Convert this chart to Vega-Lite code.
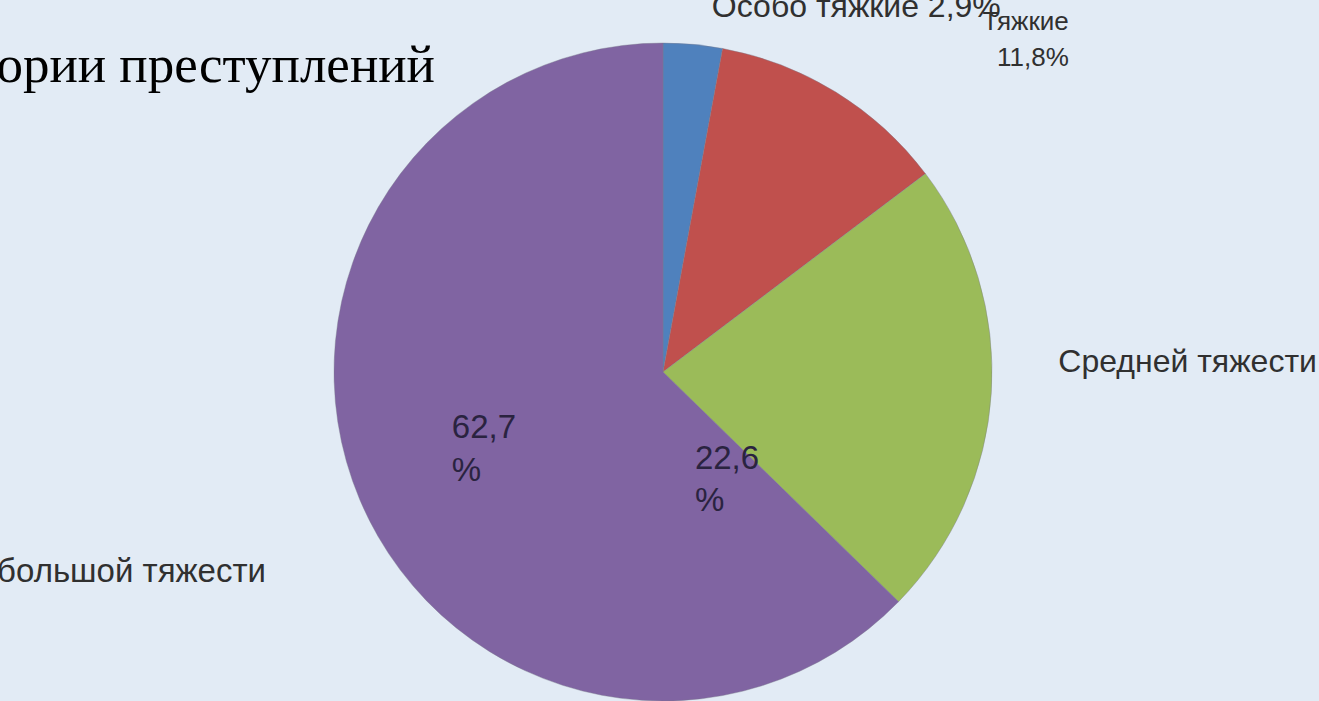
{
  "$schema": "https://vega.github.io/schema/vega-lite/v6.json",
  "width": 1326,
  "height": 658,
  "autosize": {"type": "none"},
  "padding": {"left": 0, "top": 43, "right": 0, "bottom": 0},
  "background": "#e2ebf5",
  "config": {"view": {"stroke": null}},
  "data": {
    "values": [
      {"cat": "Особо тяжкие", "rank": 1, "value": 2.9, "outer": "Особо тяжкие 2,9%", "inner": ""},
      {"cat": "Тяжкие", "rank": 2, "value": 11.8, "outer": "Тяжкие\n11,8%", "inner": ""},
      {"cat": "Средней тяжести", "rank": 3, "value": 22.6, "outer": "Средней тяжести", "inner": "22,6\n%"},
      {"cat": "Небольшой тяжести", "rank": 4, "value": 62.7, "outer": "Небольшой тяжести", "inner": "62,7\n%"}
    ]
  },
  "encoding": {
    "theta": {"field": "value", "type": "quantitative", "stack": true},
    "order": {"field": "rank", "type": "quantitative"}
  },
  "layer": [
    {
      "mark": {"type": "arc", "outerRadius": 329, "stroke": "#7a7a8a", "strokeWidth": 0.4},
      "encoding": {
        "color": {
          "field": "cat",
          "type": "nominal",
          "scale": {
            "domain": ["Особо тяжкие", "Тяжкие", "Средней тяжести", "Небольшой тяжести"],
            "range": ["#4f81bd", "#c0504d", "#9bbb59", "#8064a2"]
          },
          "legend": null
        }
      }
    },
    {
      "mark": {"type": "text", "radius": 350, "align": "right", "baseline": "alphabetic", "dx": 94.5, "dy": -426, "font": "Liberation Serif", "fontSize": 53, "color": "#000000"},
      "encoding": {"text": {"condition": {"test": "datum.rank === 4", "value": "Категории преступлений"}, "value": ""}}
    },
    {
      "mark": {"type": "text", "radius": 350, "align": "left", "baseline": "alphabetic", "dx": 17, "dy": -6.5, "font": "Liberation Sans", "fontSize": 32, "color": "#303030"},
      "encoding": {"text": {"condition": {"test": "datum.cat === 'Особо тяжкие'", "field": "outer"}, "value": ""}}
    },
    {
      "mark": {"type": "text", "radius": 350, "align": "right", "baseline": "alphabetic", "dx": 222, "dy": -44, "lineHeight": 36, "lineBreak": "\n", "font": "Liberation Sans", "fontSize": 26, "color": "#303030"},
      "encoding": {"text": {"condition": {"test": "datum.cat === 'Тяжкие'", "field": "outer"}, "value": ""}}
    },
    {
      "mark": {"type": "text", "radius": 350, "align": "left", "baseline": "alphabetic", "dx": 46, "dy": -22, "font": "Liberation Sans", "fontSize": 32, "color": "#303030"},
      "encoding": {"text": {"condition": {"test": "datum.cat === 'Средней тяжести'", "field": "outer"}, "value": ""}}
    },
    {
      "mark": {"type": "text", "radius": 350, "align": "right", "baseline": "alphabetic", "dx": -74.5, "dy": 74, "font": "Liberation Sans", "fontSize": 33, "color": "#303030"},
      "encoding": {"text": {"condition": {"test": "datum.cat === 'Небольшой тяжести'", "field": "outer"}, "value": ""}}
    },
    {
      "mark": {"type": "text", "radius": 150, "align": "left", "baseline": "alphabetic", "dx": -73, "dy": 8, "lineHeight": 43, "lineBreak": "\n", "font": "Liberation Sans", "fontSize": 33, "color": "#2a2340"},
      "encoding": {"text": {"condition": {"test": "datum.cat === 'Небольшой тяжести'", "field": "inner"}, "value": ""}}
    },
    {
      "mark": {"type": "text", "radius": 50, "align": "left", "baseline": "alphabetic", "dx": -18, "dy": 94, "lineHeight": 42, "lineBreak": "\n", "font": "Liberation Sans", "fontSize": 33, "color": "#2a2340"},
      "encoding": {"text": {"condition": {"test": "datum.cat === 'Средней тяжести'", "field": "inner"}, "value": ""}}
    }
  ]
}
